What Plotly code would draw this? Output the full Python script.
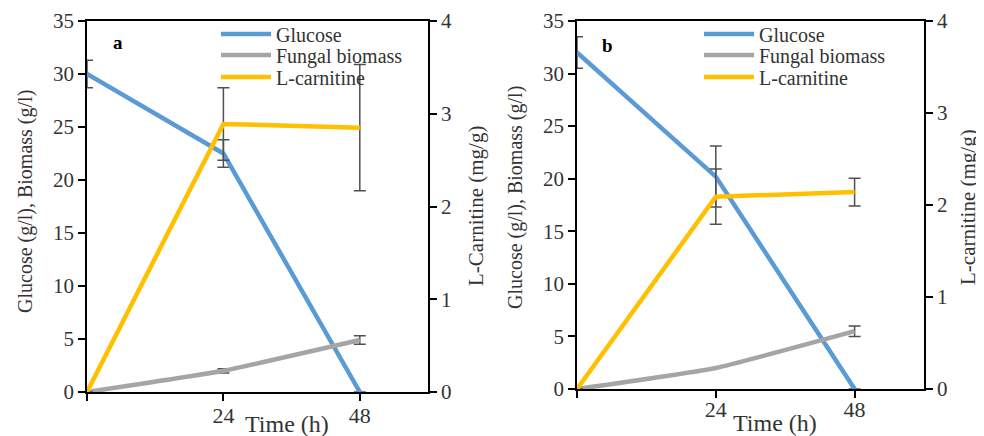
import plotly.graph_objects as go
from plotly.subplots import make_subplots

time_h = [0, 24, 48]
x_tick_vals = [0, 24, 48]
x_tick_text = ["", "24", "48"]

# Panel a
glucose_a = [30.0, 22.5, 0.0]
glucose_a_err = [1.3, 1.3, None]
biomass_a = [0.0, 2.0, 4.9]
biomass_a_err = [None, 0.2, 0.4]
carnitine_a = [0.0, 2.89, 2.85]
carnitine_a_err = [None, 0.39, 0.68]

# Panel b
glucose_b = [32.0, 20.2, 0.0]
glucose_b_err = [1.5, 2.9, None]
biomass_b = [0.0, 2.0, 5.5]
biomass_b_err = [None, None, 0.5]
carnitine_b = [0.0, 2.09, 2.14]
carnitine_b_err = [None, 0.30, 0.15]

series_names = ["Glucose", "Fungal biomass", "L-carnitine"]

C_GLU = "#5B9BD5"
C_BIO = "#A5A5A5"
C_CAR = "#FFC000"
C_ERR = "#505050"
FONT = "Liberation Serif"
TXT = "#333333"

# page body has an 8px margin, so the figure starts at (8, 8) of the window
OFF = 8
W, H = 984 - OFF, 436 - OFF


def px(x):
    return (x - OFF) / W


def py(y):
    return 1 - (y - OFF) / H


fig = make_subplots(rows=1, cols=2, specs=[[{"secondary_y": True}, {"secondary_y": True}]])


def err(arr):
    return dict(type="data", array=arr, visible=True, color=C_ERR, thickness=1.5, width=6)


panels = [
    (1, glucose_a, glucose_a_err, biomass_a, biomass_a_err, carnitine_a, carnitine_a_err,
     ["legend", "legend2", "legend3"]),
    (2, glucose_b, glucose_b_err, biomass_b, biomass_b_err, carnitine_b, carnitine_b_err,
     ["legend4", "legend5", "legend6"]),
]
for col, g, ge, b, be, c, ce, lgs in panels:
    fig.add_trace(go.Scatter(x=time_h, y=g, mode="lines", name=series_names[0],
                             line=dict(color=C_GLU, width=4.5), error_y=err(ge), legend=lgs[0]),
                  row=1, col=col, secondary_y=False)
    fig.add_trace(go.Scatter(x=time_h, y=b, mode="lines", name=series_names[1],
                             line=dict(color=C_BIO, width=4.5, shape="spline", smoothing=0.4),
                             error_y=err(be), legend=lgs[1]),
                  row=1, col=col, secondary_y=False)
    fig.add_trace(go.Scatter(x=time_h, y=c, mode="lines", name=series_names[2],
                             line=dict(color=C_CAR, width=4.5), error_y=err(ce), legend=lgs[2]),
                  row=1, col=col, secondary_y=True)

dom_a_x = [px(87), px(428)]
dom_b_x = [px(577), px(924)]
dom_a_y = [py(392), py(21)]
dom_b_y = [py(389), py(21)]

axis_common = dict(showgrid=False, zeroline=False, showline=True, linecolor="black", linewidth=1.5,
                   ticks="outside", ticklen=7, tickcolor="black", tickwidth=1.5, automargin=False)
yfont = dict(family=FONT, size=21, color=TXT)
xfont = dict(family=FONT, size=22, color=TXT)

fig.update_layout(
    width=W, height=H, margin=dict(l=0, r=0, t=0, b=0),
    paper_bgcolor="white", plot_bgcolor="white",
    font=dict(family=FONT, color=TXT),
    xaxis=dict(domain=dom_a_x, range=[0, 60], tickvals=x_tick_vals, ticktext=x_tick_text,
               mirror=True, ticklabelstandoff=-4, tickfont=xfont, **axis_common),
    xaxis2=dict(domain=dom_b_x, range=[0, 60], tickvals=x_tick_vals, ticktext=x_tick_text,
                mirror=True, ticklabelstandoff=-7, tickfont=xfont, **axis_common),
    yaxis=dict(domain=dom_a_y, range=[0, 35], dtick=5, tickfont=yfont, **axis_common),
    yaxis2=dict(range=[0, 4], dtick=1, tickfont=yfont, **axis_common),
    yaxis3=dict(domain=dom_b_y, range=[0, 35], dtick=5, tickfont=yfont, **axis_common),
    yaxis4=dict(range=[0, 4], dtick=1, tickfont=yfont, **axis_common),
    showlegend=True,
)
fig.update_yaxes(domain=dom_a_y, row=1, col=1)
fig.update_yaxes(domain=dom_b_y, row=1, col=2)

legend_rows_a = [34, 55, 77]
legend_rows_b = [34, 55, 77]
leg_font = dict(family=FONT, size=20, color=TXT)
legend_cfg = {}
for i, yy in enumerate(legend_rows_a):
    key = "legend" if i == 0 else "legend%d" % (i + 1)
    legend_cfg[key] = dict(x=px(216), y=py(yy), xanchor="left", yanchor="middle",
                           bgcolor="rgba(0,0,0,0)", font=leg_font, itemwidth=50)
for i, yy in enumerate(legend_rows_b):
    key = "legend%d" % (i + 4)
    legend_cfg[key] = dict(x=px(699), y=py(yy), xanchor="left", yanchor="middle",
                           bgcolor="rgba(0,0,0,0)", font=leg_font, itemwidth=50)
fig.update_layout(**legend_cfg)


def note(text, x, y, size, angle=0, color=TXT):
    fig.add_annotation(text=text, xref="paper", yref="paper", x=px(x), y=py(y),
                       xanchor="center", yanchor="middle", showarrow=False, textangle=angle,
                       font=dict(family=FONT, size=size, color=color))


# panel letters
note("<b>a</b>", 118, 43, 19, color="black")
note("<b>b</b>", 607, 45, 19, color="black")
# x-axis titles
note("Time (h)", 287, 424, 24)
note("Time (h)", 775, 423, 24)
# y-axis titles
note("Glucose (g/l), Biomass (g/l)", 25, 202, 20, -90)
note("L-Carnitine (mg/g)", 476, 206, 21, -90)
note("Glucose (g/l), Biomass (g/l)", 515, 198, 20, -90)
note("L-carnitine (mg/g)", 968, 207, 21, -90)

fig.write_html("out.html")
